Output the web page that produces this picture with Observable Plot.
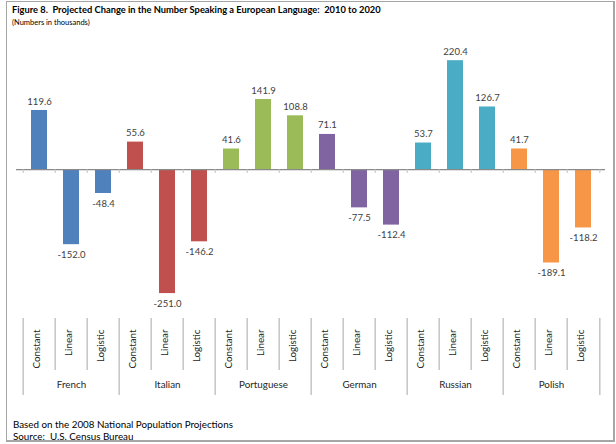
<!DOCTYPE html>
<html>
<head>
<meta charset="utf-8">
<script src="https://cdn.jsdelivr.net/npm/d3@7"></script>
<script src="https://cdn.jsdelivr.net/npm/@observablehq/plot@0.6"></script>
<style>
  body { margin: 0; background: #fff; font-family: Lato, "Open Sans", sans-serif; }
  #border { position: absolute; left: 6px; top: 1px; width: 606px; height: 438px; border: 1px solid #a6a6a6; border-right-width: 2px; border-bottom-width: 2px; }
  #title { position: absolute; left: 12px; top: 4px; font-size: 9.3px; font-weight: bold; line-height: 12px; color: #000; white-space: pre; }
  #sub { position: absolute; left: 12px; top: 18px; font-size: 7.5px; line-height: 10px; color: #000; }
  #chart { position: absolute; left: 0; top: 40px; }
  #foot { position: absolute; left: 13px; top: 418px; font-size: 9.8px; line-height: 12px; color: #000; white-space: pre; }
</style>
</head>
<body>
<div id="border"></div>
<div id="title">Figure 8.  Projected Change in the Number Speaking a European Language:  2010 to 2020</div>
<div id="sub">(Numbers in thousands)</div>
<div id="chart"></div>
<div id="foot">Based on the 2008 National Population Projections
Source:  U.S. Census Bureau</div>
<script>
const languages = ["French", "Italian", "Portuguese", "German", "Russian", "Polish"];
const methods = ["Constant", "Linear", "Logistic"];
const french = [119.6, -152.0, -48.4];
const italian = [55.6, -251.0, -146.2];
const portuguese = [41.6, 141.9, 108.8];
const german = [71.1, -77.5, -112.4];
const russian = [53.7, 220.4, 126.7];
const polish = [41.7, -189.1, -118.2];
const colors = ["#4F81BD", "#C0504D", "#9BBB59", "#8064A2", "#4BACC6", "#F79646"];

const series = [french, italian, portuguese, german, russian, polish];
const rows = [];
languages.forEach((lang, i) => methods.forEach((m, j) => rows.push({
  key: lang + "|" + m, language: lang, method: m, value: series[i][j], color: colors[i]
})));
const keys = rows.map(d => d.key);

const W = 616, H = 360, ML = 16, MR = 11;
const step = (W - ML - MR) / keys.length;
const grid = "#a6a6a6";

const chart = Plot.plot({
  width: W, height: H,
  marginLeft: ML, marginRight: MR, marginTop: 10, marginBottom: 100,
  style: { fontFamily: "Lato, 'Open Sans', sans-serif", background: "transparent", overflow: "visible" },
  x: { domain: keys, paddingInner: 0.51, paddingOuter: 0.255, axis: null },
  y: { domain: [-265, 241], axis: null },
  marks: [
    Plot.barY(rows, { x: "key", y: "value", fill: "color" }),
    Plot.ruleY([0], { stroke: "#898989", strokeWidth: 1.3 }),
    Plot.ruleX(keys, { x: d => d, y1: 0, y2: 0, dx: -step / 2, insetBottom: -4, stroke: "#bfbfbf" }),
    Plot.ruleX([keys[keys.length - 1]], { x: d => d, y1: 0, y2: 0, dx: step / 2, insetBottom: -4, stroke: "#bfbfbf" }),
    Plot.text(rows.filter(d => d.value >= 0), { x: "key", y: "value", text: d => d.value.toFixed(1), dy: -9, fontSize: 9.5, fill: "#404040" }),
    Plot.text(rows.filter(d => d.value < 0), { x: "key", y: "value", text: d => d.value.toFixed(1), dy: 10, fontSize: 9.5, fill: "#404040" }),
    Plot.ruleX(rows.filter(d => d.method !== "Constant"), { x: "key", dx: -step / 2, insetTop: 268, insetBottom: -70, stroke: grid }),
    Plot.ruleX(rows.filter(d => d.method === "Constant"), { x: "key", dx: -step / 2, insetTop: 268, insetBottom: -95, stroke: grid }),
    Plot.ruleX([keys[keys.length - 1]], { x: d => d, dx: step / 2, insetTop: 268, insetBottom: -95, stroke: grid }),
    Plot.text(rows, { x: "key", text: "method", frameAnchor: "bottom", rotate: -90, textAnchor: "end", dy: 29, fontSize: 9.8, fill: "#262626" }),
    Plot.text(languages, { x: d => d + "|Linear", text: d => d, frameAnchor: "bottom", dy: 87, fontSize: 9.8, fill: "#262626" })
  ]
});
document.getElementById("chart").appendChild(chart);
</script>
</body>
</html>
